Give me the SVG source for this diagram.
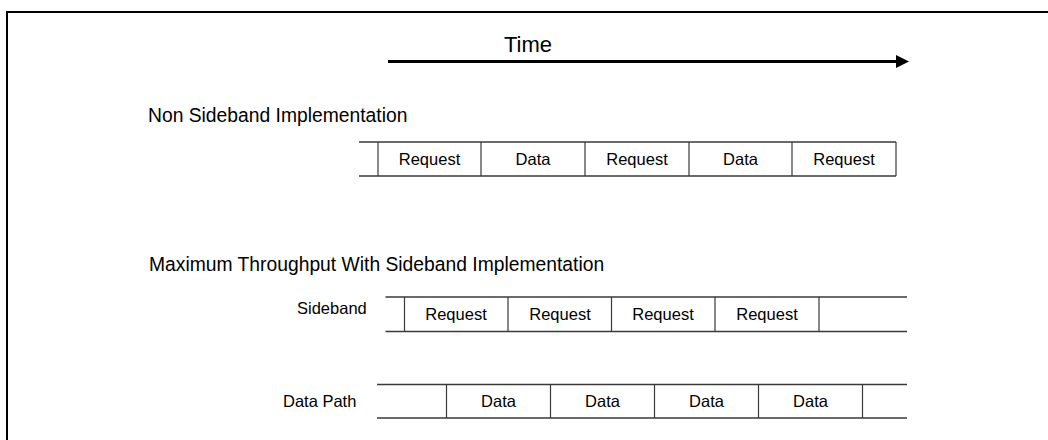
<svg xmlns="http://www.w3.org/2000/svg" width="1048" height="440" viewBox="0 0 1048 440">
<style>
text{font-family:"Liberation Sans",Arial,sans-serif;fill:#000}
.cell{font-size:16.5px;text-anchor:middle}
.head{font-size:19.3px}
.lab{font-size:16.5px}
.rl{stroke:#3a3a3a;stroke-width:1.3;fill:none}
.vl{stroke:#3a3a3a;stroke-width:1.2;fill:none}
</style>
<rect width="1048" height="440" fill="#fff"/>
<path id="frame" d="M7,440 V12 H1048" fill="none" stroke="#000" stroke-width="2"/>
<g id="time-label"><text x="528" y="52" font-size="22" text-anchor="middle">Time</text></g>
<g id="connectors">
<line x1="388" y1="61.5" x2="898" y2="61.5" stroke="#000" stroke-width="3"/>
<polygon points="896,55 909,61.5 896,68" fill="#000"/>
</g>
<g id="non-sideband">
<text class="head" x="148" y="122">Non Sideband Implementation</text>
<path class="rl" d="M359,142 H896 M359,176 H896"/>
<path class="vl" d="M378,142 V176 M481,142 V176 M585,142 V176 M689,142 V176 M792,142 V176 M896,142 V176"/>
<g id="ns-req1"><text class="cell" x="429.5" y="164.5">Request</text></g>
<g id="ns-data1"><text class="cell" x="533" y="164.5">Data</text></g>
<g id="ns-req2"><text class="cell" x="637" y="164.5">Request</text></g>
<g id="ns-data2"><text class="cell" x="740.5" y="164.5">Data</text></g>
<g id="ns-req3"><text class="cell" x="844" y="164.5">Request</text></g>
</g>
<g id="sideband-impl">
<text class="head" x="149" y="271">Maximum Throughput With Sideband Implementation</text>
</g>
<g id="sideband-row">
<text class="lab" x="297" y="314">Sideband</text>
<path class="rl" d="M385.5,297 H907 M385.5,331.5 H907"/>
<path class="vl" d="M404.5,297 V331.5 M508,297 V331.5 M611.5,297 V331.5 M715,297 V331.5 M819,297 V331.5"/>
<g id="sb-req1"><text class="cell" x="456" y="320">Request</text></g>
<g id="sb-req2"><text class="cell" x="560" y="320">Request</text></g>
<g id="sb-req3"><text class="cell" x="663" y="320">Request</text></g>
<g id="sb-req4"><text class="cell" x="767" y="320">Request</text></g>
</g>
<g id="datapath-row">
<text class="lab" x="283" y="407">Data Path</text>
<path class="rl" d="M377,384.5 H907 M377,418 H907"/>
<path class="vl" d="M446.5,384.5 V418 M550.5,384.5 V418 M654.5,384.5 V418 M758.5,384.5 V418 M862.5,384.5 V418"/>
<g id="dp-data1"><text class="cell" x="498.5" y="407">Data</text></g>
<g id="dp-data2"><text class="cell" x="602.5" y="407">Data</text></g>
<g id="dp-data3"><text class="cell" x="706.5" y="407">Data</text></g>
<g id="dp-data4"><text class="cell" x="810.5" y="407">Data</text></g>
</g>
</svg>
